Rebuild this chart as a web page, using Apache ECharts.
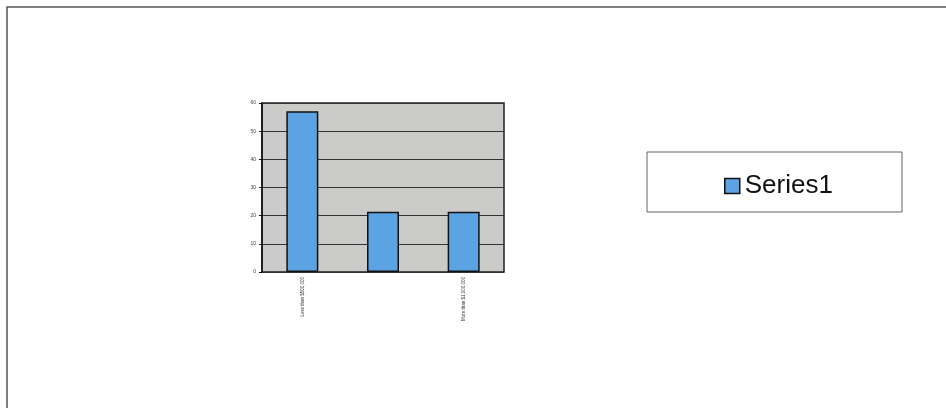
<!DOCTYPE html>
<html>

<head>
    <meta charset="UTF-8">
    <title></title>
    <style>
        html, body { margin: 0; padding: 0; background: #ffffff; }
        #container { width: 946px; height: 408px; }
    </style>
</head>

<body>
    <div id="container"></div>
    <script type="text/javascript" src="https://cdn.jsdelivr.net/npm/echarts@6/dist/echarts.min.js"></script>
    <script>
        var categories = ['Less than $500,000', '$500,000 - $1,000,000', 'More than $1,000,000'];
        var series1 = [57.1, 21.4, 21.4];
        var seriesName = 'Series1';

        var myChart = echarts.init(document.getElementById('container'));
        myChart.setOption({
            backgroundColor: '#ffffff',
            animation: false,
            graphic: [
                {
                    type: 'rect',                        // outer page frame
                    shape: { x: 7, y: 7, width: 960, height: 420 },
                    style: { fill: 'none', stroke: '#555555', lineWidth: 1.5 },
                    silent: true
                },
                {
                    type: 'rect',                        // legend frame
                    shape: { x: 647, y: 152, width: 255, height: 60 },
                    style: { fill: '#ffffff', stroke: '#666666', lineWidth: 1 },
                    z: 0,
                    silent: true
                }
            ],
            legend: {
                data: [seriesName],
                left: 719,
                top: 168,
                itemWidth: 15,
                itemHeight: 15,
                itemGap: 6,
                icon: 'rect',
                textStyle: { fontFamily: 'Liberation Sans', fontSize: 26, color: '#111111' },
                itemStyle: { borderColor: '#111111', borderWidth: 1.5 }
            },
            grid: {
                left: 262,
                top: 103,
                width: 242,
                height: 169,
                show: true,
                backgroundColor: '#cbcbc9',
                borderColor: '#222222',
                borderWidth: 1.5
            },
            xAxis: {
                type: 'category',
                data: categories,
                axisLine: { show: false },
                axisTick: { show: false },
                axisLabel: {
                    interval: 1,
                    rotate: 90,
                    fontSize: 4.5,
                    color: '#333333',
                    margin: 5
                }
            },
            yAxis: {
                type: 'value',
                min: 0,
                max: 60,
                interval: 10,
                axisLine: { show: true, lineStyle: { color: '#111111', width: 1.5 } },
                axisTick: { show: true, length: 3, lineStyle: { color: '#111111' } },
                axisLabel: { fontSize: 5, color: '#444444', margin: 6 },
                splitLine: { lineStyle: { color: '#333333', width: 1 } }
            },
            series: [
                {
                    name: seriesName,
                    type: 'bar',
                    data: series1,
                    barWidth: 32,
                    itemStyle: {
                        color: '#5ca3e3',
                        borderColor: '#111111',
                        borderWidth: 1.5
                    }
                }
            ]
        });
    </script>
</body>

</html>
